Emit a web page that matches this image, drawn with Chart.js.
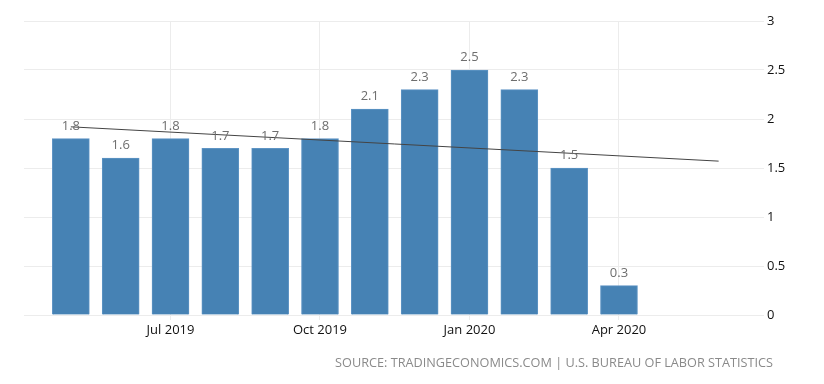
<!DOCTYPE html>
<html>
<head>
<meta charset="utf-8">
<script src="https://cdn.jsdelivr.net/npm/chart.js@4/dist/chart.umd.min.js"></script>
<style>
  html, body { margin: 0; padding: 0; background: #fff; }
  #wrap { width: 824px; height: 384px; position: relative; }
</style>
</head>
<body>
<div id="wrap"><canvas id="c" width="824" height="384"></canvas></div>
<script>
// ---- data ----
const categories = ['May 2019','Jun 2019','Jul 2019','Aug 2019','Sep 2019','Oct 2019','Nov 2019','Dec 2019','Jan 2020','Feb 2020','Mar 2020','Apr 2020'];
const values = [1.8, 1.6, 1.8, 1.7, 1.7, 1.8, 2.1, 2.3, 2.5, 2.3, 1.5, 0.3];
const xTickLabels = ['Jul 2019', 'Oct 2019', 'Jan 2020', 'Apr 2020'];
const yTickValues = [0, 0.5, 1, 1.5, 2, 2.5, 3];
const trendMonths = ['May 2019', 'Jun 2020'];
const trendValues = [1.92, 1.57];
const sourceText = 'SOURCE: TRADINGECONOMICS.COM | U.S. BUREAU OF LABOR STATISTICS';

// month index helper (May 2019 = 0)
const monthNames = ['Jan','Feb','Mar','Apr','May','Jun','Jul','Aug','Sep','Oct','Nov','Dec'];
function monthIndex(label) {
  const [m, y] = label.split(' ');
  return (parseInt(y) - 2019) * 12 + monthNames.indexOf(m) - 4;
}
const barData = categories.map((c, i) => ({ x: monthIndex(c), y: values[i] }));
const trendData = trendMonths.map((c, i) => ({ x: monthIndex(c), y: trendValues[i] }));
const tickPositions = xTickLabels.map(monthIndex);
const tickLabelMap = {};
xTickLabels.forEach(l => { tickLabelMap[monthIndex(l)] = l; });

const FONT = "'Open Sans', 'DejaVu Sans', sans-serif";

const labelPlugin = {
  id: 'valueLabels',
  afterDatasetsDraw(chart) {
    const ctx = chart.ctx;
    const meta = chart.getDatasetMeta(0);
    ctx.save();
    ctx.font = '13px ' + FONT;
    ctx.fillStyle = '#6e6e6e';
    ctx.textAlign = 'center';
    ctx.textBaseline = 'bottom';
    meta.data.forEach((bar, i) => {
      ctx.fillText(String(values[i]), bar.x, bar.y - 6);
    });
    ctx.restore();
  }
};

const sourcePlugin = {
  id: 'sourceText',
  afterDraw(chart) {
    const ctx = chart.ctx;
    ctx.save();
    ctx.font = '12.7px ' + FONT;
    ctx.fillStyle = '#8a8a8a';
    ctx.textAlign = 'right';
    ctx.textBaseline = 'middle';
    ctx.fillText(sourceText, 773, 363);
    ctx.restore();
  }
};

new Chart(document.getElementById('c'), {
  data: {
    datasets: [
      {
        type: 'bar',
        data: barData,
        backgroundColor: '#4682B4',
        borderColor: '#5e94c4',
        borderWidth: 1,
        barThickness: 37,
        order: 2
      },
      {
        type: 'line',
        data: trendData,
        borderColor: '#444',
        borderWidth: 1,
        pointRadius: 0,
        fill: false,
        order: 1
      }
    ]
  },
  options: {
    responsive: false,
    animation: false,
    devicePixelRatio: 1,
    layout: { padding: { left: 24, top: 21, right: 0, bottom: 45 } },
    plugins: { legend: { display: false }, tooltip: { enabled: false } },
    scales: {
      x: {
        type: 'linear',
        offset: false,
        min: -0.94,
        max: 13.83,
        afterFit(scale) { scale.height = 24; },
        afterBuildTicks(scale) { scale.ticks = tickPositions.map(v => ({ value: v })); },
        grid: { color: '#ececec', lineWidth: 1, tickLength: 5, drawOnChartArea: true, offset: false },
        border: { display: false },
        ticks: {
          color: '#111',
          font: { family: FONT, size: 13 },
          padding: 2,
          maxRotation: 0,
          autoSkip: false,
          callback: v => tickLabelMap[v] || ''
        }
      },
      y: {
        position: 'right',
        min: 0,
        max: 3,
        afterFit(scale) { scale.width = 64; },
        afterBuildTicks(scale) { scale.ticks = yTickValues.map(v => ({ value: v })); },
        grid: { color: '#ececec', lineWidth: 1, tickLength: 4 },
        border: { display: false },
        ticks: {
          color: '#111',
          font: { family: FONT, size: 13 },
          padding: 3,
          callback: v => String(v)
        }
      }
    }
  },
  plugins: [labelPlugin, sourcePlugin]
});
</script>
</body>
</html>
